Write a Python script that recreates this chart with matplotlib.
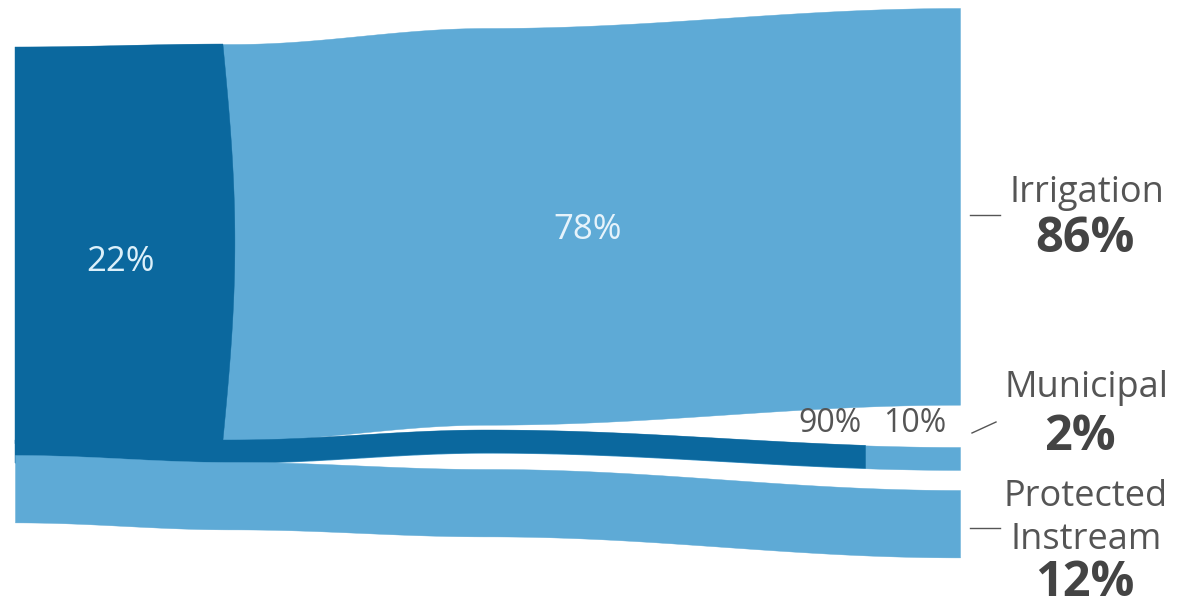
import numpy as np
import matplotlib
matplotlib.use("Agg")
import matplotlib.pyplot as plt

plt.rcParams['font.family'] = ['Open Sans', 'DejaVu Sans']

# data
uses = ["Irrigation", "Municipal", "Protected", "Instream"]
use_share = [86, 2, 12]            # % of total water use
dark_share = [22, 90, 0]           # % of each use from the dark source
light_share = [78, 10, 100]        # % of each use from the light source
share_labels = ["86%", "2%", "12%"]

DARK = "#0b689e"
LIGHT = "#5eaad6"
GREY = "#555555"

# layout (pixel space of a 1192x607 canvas)
x_left, x_right = 15, 960
key_t = np.array([0.0, 0.23, 0.5, 1.0])
band_tops = [
    [47, 44, 28, 8],
    [440, 440, 430, 447],
    [455, 462, 469, 490],
]


def thickness(v):
    return 4.45 * v + 14


def ease(t, ys):
    # cosine easing between the key points
    ys = np.asarray(ys, float)
    out = np.empty_like(t)
    for i, tt in enumerate(t):
        j = min(np.searchsorted(key_t, tt, side='right') - 1, len(key_t) - 2)
        f = (tt - key_t[j]) / (key_t[j + 1] - key_t[j])
        s = (1 - np.cos(np.pi * f)) / 2
        out[i] = ys[j] + (ys[j + 1] - ys[j]) * s
    return out


fig = plt.figure(figsize=(11.92, 6.07), dpi=100)
ax = fig.add_axes([0, 0, 1, 1])
ax.set_xlim(0, 1192)
ax.set_ylim(607, 0)
ax.axis('off')

t = np.linspace(0, 1, 400)
xs = x_left + t * (x_right - x_left)

for i, v in enumerate(use_share):
    top = ease(t, band_tops[i])
    bot = top + thickness(v)
    col = LIGHT if light_share[i] else DARK
    ax.fill_between(xs, top, bot, facecolor=col, edgecolor=col, lw=0.3)
    if dark_share[i] > 0:
        split = x_left + dark_share[i] / 100 * (x_right - x_left)
        m = xs <= split
        k = np.searchsorted(xs, split)
        y_top, y_bot = top[k], bot[k]
        s = np.linspace(0, 1, 60)
        bulge = 12 if i == 0 else 0
        cx = split + bulge * np.sin(np.pi * s)
        cy = y_top + s * (y_bot - y_top)
        px = np.concatenate([xs[m], cx, xs[m][::-1]])
        py = np.concatenate([top[m], cy, bot[m][::-1]])
        ax.fill(px, py, facecolor=DARK, edgecolor=DARK, lw=0.3)

# numbers inside the irrigation band
ax.text(120, 262, f"{dark_share[0]}%", color="#dcf0fa", fontsize=25, ha='center', va='center')
ax.text(588, 230, f"{light_share[0]}%", color="#e6f3fb", fontsize=25, ha='center', va='center')
# municipal split labels
ax.text(862, 424, f"{dark_share[1]}%", color=GREY, fontsize=23, ha='right', va='center')
ax.text(915, 424, f"{light_share[1]}%", color=GREY, fontsize=23, ha='center', va='center')

# leader lines
ax.plot([970, 1000], [215, 215], color=GREY, lw=1)
ax.plot([972, 996], [433, 422], color=GREY, lw=1)
ax.plot([970, 1000], [528, 528], color=GREY, lw=1)

# right-hand labels
ax.text(1087, 193, uses[0], color=GREY, fontsize=26, ha='center', va='center')
ax.text(1085, 240, share_labels[0], color="#444444", fontsize=35, fontweight='bold', ha='center', va='center')
ax.text(1087, 388, uses[1], color=GREY, fontsize=26, ha='center', va='center')
ax.text(1080, 437, share_labels[1], color="#444444", fontsize=35, fontweight='bold', ha='center', va='center')
ax.text(1086, 497, uses[2], color=GREY, fontsize=26, ha='center', va='center')
ax.text(1086, 540, uses[3], color=GREY, fontsize=26, ha='center', va='center')
ax.text(1085, 584, share_labels[2], color="#444444", fontsize=35, fontweight='bold', ha='center', va='center')

fig.savefig("out.png", dpi=100, facecolor="white")
